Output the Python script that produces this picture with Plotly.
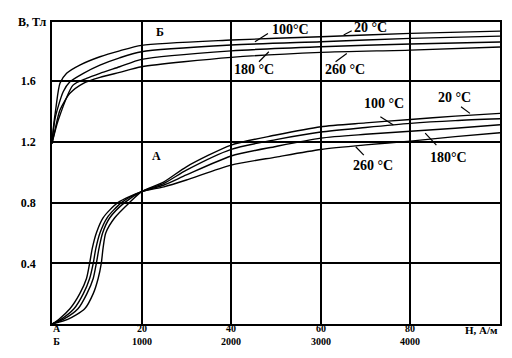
import plotly.graph_objects as go

# ---- data: curve A (H in A-scale units, lower tick row) ----
A_H_20 = [0, 3.5, 7.3, 9.2, 10.3, 11.0, 11.4, 12.0, 14.0, 17.3, 20, 25, 30, 40, 50, 60, 70, 80, 90, 100]
A_B_20 = [0, 0.03, 0.1, 0.2, 0.3, 0.4, 0.5, 0.6, 0.7, 0.8, 0.872, 0.937, 1.036, 1.179, 1.245, 1.30, 1.325, 1.348, 1.37, 1.388]
A_H_100 = [0, 2.5, 5.8, 7.8, 9.2, 9.9, 10.5, 11.3, 12.9, 16.2, 20, 25, 30, 40, 50, 60, 70, 80, 90, 100]
A_B_100 = [0, 0.03, 0.1, 0.2, 0.3, 0.4, 0.5, 0.6, 0.7, 0.8, 0.872, 0.927, 1.014, 1.151, 1.215, 1.265, 1.295, 1.322, 1.34, 1.352]
A_H_180 = [0, 2.0, 4.9, 7.0, 8.4, 9.2, 9.8, 10.7, 12.3, 15.5, 20, 25, 30, 40, 50, 60, 70, 80, 90, 100]
A_B_180 = [0, 0.03, 0.1, 0.2, 0.3, 0.4, 0.5, 0.6, 0.7, 0.8, 0.872, 0.916, 0.982, 1.107, 1.17, 1.225, 1.25, 1.27, 1.29, 1.313]
A_H_260 = [0, 1.5, 4.0, 6.2, 7.7, 8.4, 9.0, 9.9, 11.4, 14.7, 20, 25, 30, 40, 50, 60, 70, 80, 90, 100]
A_B_260 = [0, 0.03, 0.1, 0.2, 0.3, 0.4, 0.5, 0.6, 0.7, 0.8, 0.872, 0.904, 0.949, 1.047, 1.10, 1.15, 1.18, 1.205, 1.235, 1.26]

# ---- data: curve Б (H in A/m, upper tick row scale 0..5000) ----
B_H_20 = [0, 15, 45, 89, 163, 310, 535, 755, 1000, 2000, 3000, 4000, 5000]
B_B_20 = [1.19, 1.29, 1.43, 1.586, 1.652, 1.706, 1.761, 1.800, 1.836, 1.871, 1.893, 1.915, 1.930]
B_H_100 = [0, 35, 125, 200, 350, 535, 755, 1000, 2000, 3000, 4000, 5000]
B_B_100 = [1.19, 1.357, 1.53, 1.596, 1.652, 1.706, 1.754, 1.794, 1.838, 1.86, 1.882, 1.897]
B_H_180 = [0, 70, 235, 385, 535, 755, 1000, 2000, 3000, 4000, 5000]
B_B_180 = [1.19, 1.344, 1.574, 1.619, 1.652, 1.695, 1.744, 1.80, 1.827, 1.845, 1.858]
B_H_260 = [0, 33, 89, 200, 350, 535, 755, 1000, 2000, 3000, 4000, 5000]
B_B_260 = [1.19, 1.278, 1.41, 1.52, 1.586, 1.625, 1.658, 1.695, 1.757, 1.79, 1.805, 1.825]

# ---- tick labels ----
x_tickvals = [0, 20, 40, 60, 80]
x_row1 = ["А", "20", "40", "60", "80"]
x_row2 = ["Б", "1000", "2000", "3000", "4000"]
y_tickvals = [0.4, 0.8, 1.2, 1.6]
y_ticktext = ["0.4", "0.8", "1.2", "1.6"]

FONT = "Liberation Serif"
fig = go.Figure()

line_style = dict(color="black", width=1.4, shape="spline", smoothing=0.7)
for h, b, name in [(A_H_20, A_B_20, "A 20 °C"), (A_H_100, A_B_100, "A 100 °C"),
                   (A_H_180, A_B_180, "A 180 °C"), (A_H_260, A_B_260, "A 260 °C")]:
    fig.add_trace(go.Scatter(x=h, y=b, mode="lines", line=line_style, name=name,
                             showlegend=False, xaxis="x", yaxis="y"))
for h, b, name in [(B_H_20, B_B_20, "Б 20 °C"), (B_H_100, B_B_100, "Б 100 °C"),
                   (B_H_180, B_B_180, "Б 180 °C"), (B_H_260, B_B_260, "Б 260 °C")]:
    fig.add_trace(go.Scatter(x=h, y=b, mode="lines", line=line_style, name=name,
                             showlegend=False, xaxis="x2", yaxis="y"))

def bfont(size):
    return dict(family=FONT, size=size, color="black", weight="bold")

# temperature labels with leader lines
labels = [
    ("100°C", 53.3, 1.943, 45.3, 1.860, 48.2, 1.915),
    ("20 °C", 71.1, 1.957, 65.1, 1.904, 66.9, 1.932),
    ("180 °C", 45.1, 1.680, 46.2, 1.728, 48.4, 1.794),
    ("260 °C", 65.3, 1.680, 63.3, 1.728, 65.8, 1.783),
    ("100 °C", 74.0, 1.456, 73.3, 1.366, 76.2, 1.311),
    ("20 °C", 89.8, 1.495, 91.3, 1.432, 93.3, 1.388),
    ("180°C", 88.4, 1.094, 83.3, 1.258, 85.8, 1.179),
    ("260 °C", 71.6, 1.047, 67.8, 1.168, 69.6, 1.113),
]
for txt, tx, ty, x0, y0, x1, y1 in labels:
    fig.add_annotation(x=tx, y=ty, xref="x", yref="y", text=txt, showarrow=False,
                       font=bfont(14))
    fig.add_shape(type="line", xref="x", yref="y", x0=x0, y0=y0, x1=x1, y1=y1,
                  line=dict(color="black", width=1.2))

fig.add_annotation(x=23.3, y=1.107, xref="x", yref="y", text="А", showarrow=False,
                   font=bfont(12))
fig.add_annotation(x=24.0, y=1.924, xref="x", yref="y", text="Б", showarrow=False,
                   font=bfont(12))

# axis titles
fig.add_annotation(x=-0.008, y=1.0, xref="paper", yref="paper", text="B, Тл",
                   xanchor="right", yanchor="middle", showarrow=False, font=bfont(12))
fig.add_annotation(x=1.0, y=-0.02, xref="paper", yref="paper", text="H, А/м",
                   xanchor="right", yanchor="middle", showarrow=False, font=bfont(11))
# two-row x tick labels (А scale over Б scale), one text per tick
for v, t1, t2 in zip(x_tickvals, x_row1, x_row2):
    fig.add_annotation(x=v, y=-0.035, xref="x", yref="paper", text=f"{t1}<br>{t2}",
                       showarrow=False, xshift=5 if v == 0 else 0, yanchor="middle",
                       font=bfont(10))

# page body has an 8px margin, so the figure is sized/offset to compensate
fig.update_layout(
    width=504, height=350,
    margin=dict(l=44, r=10, t=14, b=34),
    paper_bgcolor="white", plot_bgcolor="white",
    showlegend=False,
    xaxis=dict(range=[0, 100], tickvals=x_tickvals, showticklabels=False,
               showgrid=True, gridcolor="black", gridwidth=1.5,
               showline=True, linecolor="black", linewidth=1.5, mirror=True,
               zeroline=False, ticks=""),
    xaxis2=dict(range=[0, 5000], overlaying="x", visible=False),
    yaxis=dict(range=[0, 1.99], tickvals=y_tickvals, ticktext=y_ticktext,
               showgrid=True, gridcolor="black", gridwidth=1.5,
               showline=True, linecolor="black", linewidth=1.5, mirror=True,
               zeroline=False, ticks="", ticklabelstandoff=12,
               tickfont=bfont(12)),
)

fig.write_html("out.html")
